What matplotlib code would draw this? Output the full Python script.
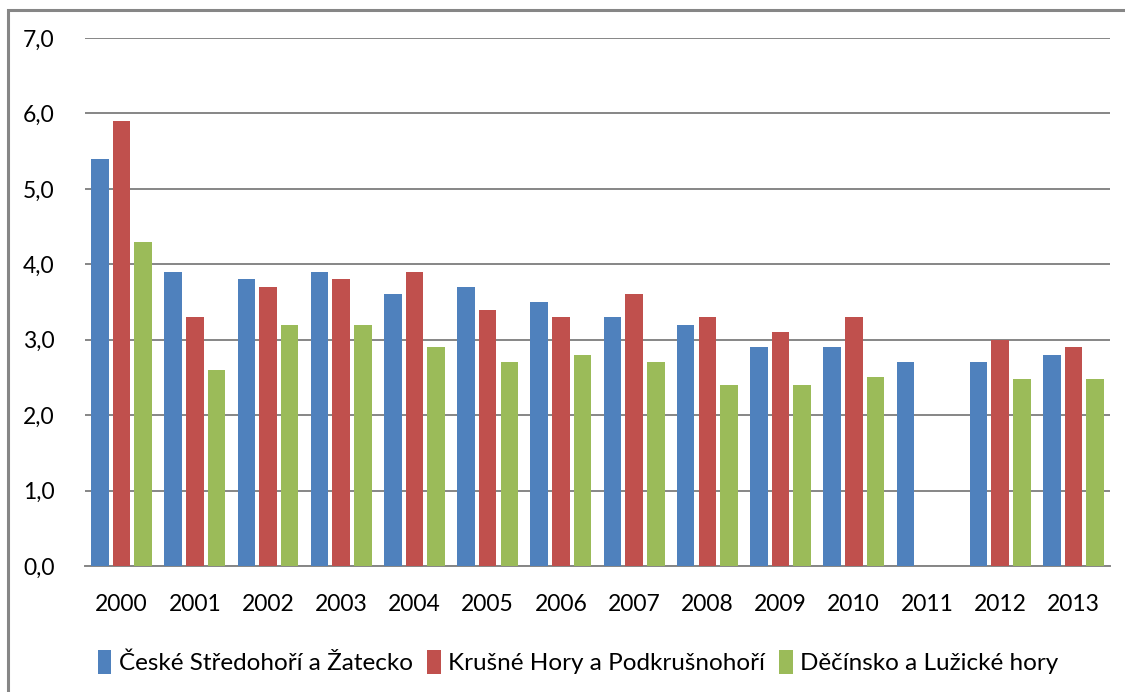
import matplotlib.pyplot as plt
from matplotlib.patches import Rectangle
import numpy as np

# data
years = ['2000', '2001', '2002', '2003', '2004', '2005', '2006',
         '2007', '2008', '2009', '2010', '2011', '2012', '2013']
stredohori = [5.4, 3.9, 3.8, 3.9, 3.6, 3.7, 3.5, 3.3, 3.2, 2.9, 2.9, 2.7, 2.7, 2.8]
krusne_hory = [5.9, 3.3, 3.7, 3.8, 3.9, 3.4, 3.3, 3.6, 3.3, 3.1, 3.3, np.nan, 3.0, 2.9]
decinsko = [4.3, 2.6, 3.2, 3.2, 2.9, 2.7, 2.8, 2.7, 2.4, 2.4, 2.5, np.nan, 2.48, 2.48]

series = [
    ('České Středohoří a Žatecko', stredohori, '#4F81BD'),
    ('Krušné Hory a Podkrušnohoří', krusne_hory, '#C0504D'),
    ('Děčínsko a Lužické hory', decinsko, '#9BBB59'),
]

plt.rcParams['font.family'] = ['Lato', 'DejaVu Sans']

W, H = 1125, 692
fig = plt.figure(figsize=(W / 100, H / 100), dpi=100)

# outer chart frame (runs off the right and bottom of the picture)
fig.patches.append(Rectangle((8 / W, -0.1), 1.2, 1 - 10 / H + 0.1,
                             transform=fig.transFigure, fill=False,
                             edgecolor='#868686', linewidth=2.2))

ax = fig.add_axes([85 / W, 1 - 566 / H, (1110 - 85) / W, (566 - 38) / H])

x = np.arange(len(years))
step = 0.296
width = 0.24
for i, (name, vals, col) in enumerate(series):
    ax.bar(x + (i - 1) * step, vals, width=width, color=col, label=name, zorder=3)

ax.set_xlim(-0.5, len(years) - 0.5)
ax.set_ylim(0, 7)
ax.set_yticks(np.arange(0, 8, 1))
ax.set_yticklabels([f'{v:.1f}'.replace('.', ',') for v in range(8)])
ax.set_xticks(x)
ax.set_xticklabels(years)
ax.yaxis.grid(True, color='#868686', linewidth=1.4, zorder=0)
ax.set_axisbelow(True)
for s in ['top', 'right', 'left']:
    ax.spines[s].set_visible(False)
ax.spines['bottom'].set_color('#868686')
ax.spines['bottom'].set_linewidth(1.4)
ax.tick_params(length=0, labelsize=16.5, colors='black')
ax.tick_params(axis='y', pad=22)
ax.tick_params(axis='x', pad=20)

ax.legend(loc='upper center', bbox_to_anchor=(0.481, -0.118), ncol=3, frameon=False,
          fontsize=17.5, handlelength=0.55, handleheight=1.1, handletextpad=0.3,
          columnspacing=0.6)

fig.savefig('out.png', dpi=100)
